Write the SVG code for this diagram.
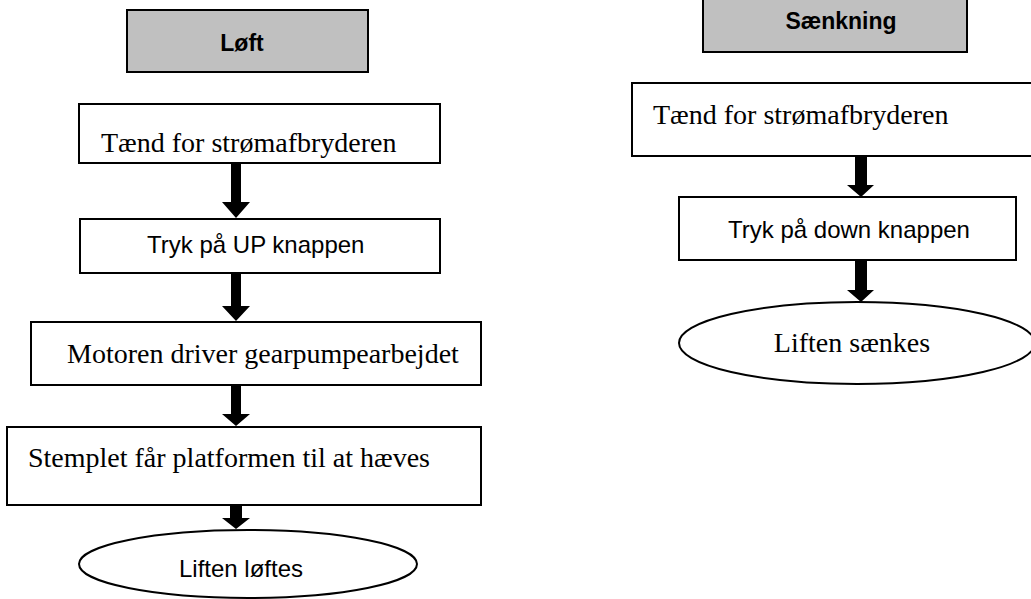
<svg xmlns="http://www.w3.org/2000/svg" width="1031" height="599" viewBox="0 0 1031 599">
<style>
.box{fill:#fff;stroke:#000;stroke-width:2}
.hdr{fill:#c0c0c0;stroke:#000;stroke-width:2}
.serif{font-family:"Liberation Serif","Times New Roman",serif;font-size:28px;fill:#000}
.sans{font-family:"Liberation Sans",Arial,sans-serif;font-size:24px;fill:#000}
.bold{font-family:"Liberation Sans",Arial,sans-serif;font-size:23px;font-weight:bold;fill:#000}
.arrow{fill:#000}
</style>
<rect width="1031" height="599" fill="#fff"/>
<g id="loft-header">
<rect class="hdr" x="127" y="10" width="241" height="62"/>
<text class="bold" x="242" y="51" text-anchor="middle">Løft</text>
</g>
<g id="l1">
<rect class="box" x="79" y="104" width="361" height="59"/>
<text class="serif" x="101" y="152">Tænd for strømafbryderen</text>
</g>
<g id="l2">
<rect class="box" x="80" y="219" width="360" height="54"/>
<text class="sans" x="147" y="253">Tryk på UP knappen</text>
</g>
<g id="l3">
<rect class="box" x="31" y="322" width="450" height="63"/>
<text class="serif" x="67" y="363">Motoren driver gearpumpearbejdet</text>
</g>
<g id="l4">
<rect class="box" x="7" y="427" width="474" height="78"/>
<text class="serif" x="28" y="467">Stemplet får platformen til at hæves</text>
</g>
<g id="l5">
<ellipse class="box" cx="248" cy="564" rx="169" ry="34"/>
<text class="sans" x="241" y="577" text-anchor="middle">Liften løftes</text>
</g>
<g id="saenk-header">
<rect class="hdr" x="703" y="-10" width="264" height="62"/>
<text class="bold" x="841" y="29" text-anchor="middle">Sænkning</text>
</g>
<g id="r1">
<rect class="box" x="632" y="83" width="410" height="73"/>
<text class="serif" x="653" y="124">Tænd for strømafbryderen</text>
</g>
<g id="r2">
<rect class="box" x="679" y="197" width="337" height="63"/>
<text class="sans" x="728" y="238">Tryk på down knappen</text>
</g>
<g id="r3">
<ellipse class="box" cx="857" cy="343" rx="178" ry="41"/>
<text class="serif" x="852" y="352" text-anchor="middle">Liften sænkes</text>
</g>
<g id="connectors">
<path class="arrow" d="M231,164 H241 V202 H250 L236,218 L222,202 H231 Z"/>
<path class="arrow" d="M231,274 H241 V306 H250 L236,321 L222,306 H231 Z"/>
<path class="arrow" d="M231,386 H241 V414 H250 L236,426 L222,414 H231 Z"/>
<path class="arrow" d="M230,506 H242 V518 H250 L236,529 L222,518 H230 Z"/>
<path class="arrow" d="M855,157 H867 V185 H874 L861,197 L847,185 H855 Z"/>
<path class="arrow" d="M855,261 H867 V290 H874 L861,302 L847,290 H855 Z"/>
</g>
</svg>
